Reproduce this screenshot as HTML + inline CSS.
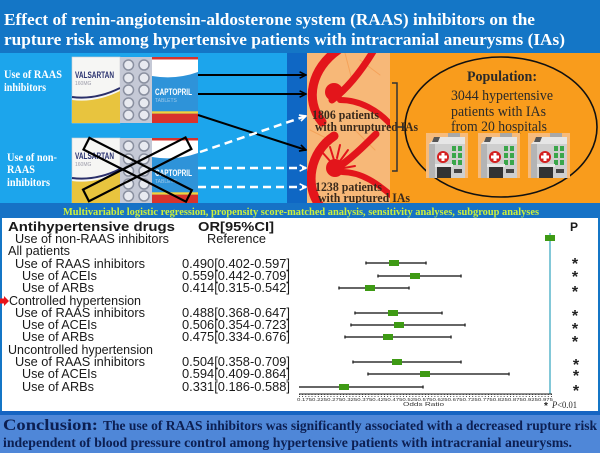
<!DOCTYPE html>
<html><head><meta charset="utf-8"><style>
html,body{margin:0;padding:0;background:#1476c6;}
svg{display:block;}
.serif{font-family:"Liberation Serif",serif;}
.sans{font-family:"Liberation Sans",sans-serif;}
</style></head><body>
<svg width="600" height="453" viewBox="0 0 600 453" xmlns="http://www.w3.org/2000/svg">
<defs>
<marker id="ab" viewBox="0 0 10 10" refX="9" refY="5" markerWidth="8" markerHeight="8" orient="auto" markerUnits="userSpaceOnUse"><path d="M1,1 L9,5 L1,9" fill="none" stroke="#000" stroke-width="2"/></marker>
<marker id="aw" viewBox="0 0 10 10" refX="9" refY="5" markerWidth="8" markerHeight="8" orient="auto" markerUnits="userSpaceOnUse"><path d="M1,1 L9,5 L1,9" fill="none" stroke="#fff" stroke-width="2"/></marker>
<pattern id="tk" x="299" y="0" width="3.15" height="4" patternUnits="userSpaceOnUse"><rect width="0.8" height="3" fill="#222"/></pattern>
<clipPath id="pc"><rect x="307" y="53" width="83" height="150"/></clipPath>
<g id="pack">
  <rect x="0" y="0" width="48" height="66" fill="#f6f6f4" stroke="#d0d0d0" stroke-width="0.6"/>
  <path d="M0,43 Q24,46 48,34 V66 H0 Z" fill="#e8c43e"/>
  <path d="M0,40 Q24,43 48,31" fill="none" stroke="#2a2f6a" stroke-width="2"/>
  <text x="3" y="21" class="sans" font-size="9" font-weight="bold" fill="#2b3370" textLength="39" lengthAdjust="spacingAndGlyphs">VALSARTAN</text>
  <text x="3" y="28" class="sans" font-size="5" fill="#9a9aa8">160MG</text>
  <rect x="48" y="0" width="32" height="66" fill="#c5c9d6"/>
  <g fill="#e8eaf0" stroke="#8a90a0" stroke-width="1.5">
    <circle cx="56.5" cy="8" r="5"/><circle cx="72" cy="8" r="5"/>
    <circle cx="56.5" cy="21" r="5"/><circle cx="72" cy="21" r="5"/>
    <circle cx="56.5" cy="33" r="5"/><circle cx="72" cy="33" r="5"/>
    <circle cx="56.5" cy="46" r="5"/><circle cx="72" cy="46" r="5"/>
    <circle cx="56.5" cy="58" r="5"/><circle cx="72" cy="58" r="5"/>
  </g>
  <rect x="80" y="0" width="46" height="66" fill="#2e93d9"/>
  <rect x="80" y="0" width="46" height="2.5" fill="#d8332c"/>
  <path d="M80,2.5 H126 V15 Q104,23 80,19 Z" fill="#ffffff"/>
  <text x="83" y="38" class="sans" font-size="9" font-weight="bold" fill="#ffffff" textLength="37" lengthAdjust="spacingAndGlyphs">CAPTOPRIL</text>
  <text x="83" y="45" class="sans" font-size="5" fill="#9fc9ea">TABLETS</text>
  <rect x="80" y="54.3" width="46" height="2.4" fill="#f2d23a"/>
  <rect x="80" y="56.7" width="46" height="9.3" fill="#d8332c"/>
</g>
<g id="hosp">
  <rect x="0" y="0" width="42" height="45" fill="#f6bb7c"/>
  <rect x="22" y="0" width="12" height="6" fill="#a8a8a8"/>
  <path d="M3,11 L10,4 H39 V11 Z" fill="#e6e6e6"/>
  <path d="M8,4 L14,4 L12,9 L6,9 Z" fill="#555"/>
  <rect x="3" y="11" width="36" height="34" fill="#cfcfcf"/>
  <rect x="3" y="11" width="6" height="34" fill="#b4b4b4"/>
  <circle cx="17" cy="24" r="6" fill="#d42020"/>
  <rect x="15.5" y="20" width="3" height="8" fill="#fff"/>
  <rect x="13" y="22.5" width="8" height="3" fill="#fff"/>
  <g fill="#3aa64a">
    <rect x="26" y="13" width="4" height="5"/><rect x="32" y="13" width="4" height="5"/>
    <rect x="26" y="20" width="4" height="5"/><rect x="32" y="20" width="4" height="5"/>
    <rect x="26" y="27" width="4" height="5"/><rect x="32" y="27" width="4" height="5"/>
  </g>
  <rect x="9" y="31" width="18" height="3" fill="#e8e8e8"/>
  <rect x="11" y="34" width="14" height="11" fill="#333"/>
  <rect x="28" y="36" width="8" height="4" fill="#444"/>
</g>
</defs>

<!-- background / title -->
<rect x="0" y="0" width="600" height="453" fill="#1476c6"/>
<text x="4" y="25" class="serif" font-size="17" font-weight="bold" fill="#ffffff" textLength="531" lengthAdjust="spacingAndGlyphs">Effect of renin-angiotensin-aldosterone system (RAAS) inhibitors on the</text>
<text x="4" y="45" class="serif" font-size="17" font-weight="bold" fill="#ffffff" textLength="561" lengthAdjust="spacingAndGlyphs">rupture risk among hypertensive patients with intracranial aneurysms (IAs)</text>

<!-- middle panel -->
<rect x="0" y="53" width="287" height="150" fill="#1ca5ec"/>
<rect x="287" y="53" width="20" height="150" fill="#0f67c4"/>
<rect x="307" y="53" width="83" height="150" fill="#f7b878"/>
<rect x="390" y="53" width="210" height="150" fill="#f99c1c"/>

<text x="4" y="78" class="serif" font-size="11.5" font-weight="bold" fill="#ffffff" textLength="58" lengthAdjust="spacingAndGlyphs">Use of RAAS</text>
<text x="4" y="91" class="serif" font-size="11.5" font-weight="bold" fill="#ffffff" textLength="42" lengthAdjust="spacingAndGlyphs">inhibitors</text>
<text x="7" y="161" class="serif" font-size="11.5" font-weight="bold" fill="#ffffff" textLength="50" lengthAdjust="spacingAndGlyphs">Use of non-</text>
<text x="7" y="173" class="serif" font-size="11.5" font-weight="bold" fill="#ffffff" textLength="28" lengthAdjust="spacingAndGlyphs">RAAS</text>
<text x="7" y="186" class="serif" font-size="11.5" font-weight="bold" fill="#ffffff" textLength="43" lengthAdjust="spacingAndGlyphs">inhibitors</text>

<use href="#pack" x="72" y="57"/>
<use href="#pack" x="72" y="138"/>
<g fill="none" stroke="#000" stroke-width="2.2">
  <rect x="80" y="163" width="115" height="13" transform="rotate(27 137 170)"/>
  <rect x="80" y="163" width="115" height="13" transform="rotate(-27 137 170)"/>
</g>

<!-- arrows -->
<g stroke="#000" stroke-width="2" fill="none">
  <line x1="198" y1="75" x2="306" y2="75" marker-end="url(#ab)"/>
  <line x1="198" y1="94" x2="306" y2="94" marker-end="url(#ab)"/>
  <line x1="198" y1="115" x2="306" y2="150" marker-end="url(#ab)"/>
</g>
<g stroke="#fff" stroke-width="2.5" fill="none" stroke-dasharray="8 5">
  <line x1="200" y1="152" x2="306" y2="116" marker-end="url(#aw)"/>
  <line x1="198" y1="168" x2="306" y2="168" marker-end="url(#aw)"/>
  <line x1="198" y1="187" x2="306" y2="187" marker-end="url(#aw)"/>
</g>

<!-- vessels -->
<g clip-path="url(#pc)" fill="none" stroke-linecap="round">
  <g stroke="#f39a4e" stroke-width="1" opacity="0.7">
    <line x1="345" y1="53" x2="352" y2="80"/><line x1="360" y1="60" x2="380" y2="75"/>
    <line x1="310" y1="130" x2="330" y2="140"/><line x1="355" y1="130" x2="375" y2="150"/>
  </g>
  <g stroke="#e3151b">
    <path d="M338,50 C312,68 304,100 322,122" stroke-width="9"/>
    <path d="M332,100 C348,88 362,70 374,50" stroke-width="7"/>
    <path d="M340,100 C360,100 378,110 392,126" stroke-width="6"/>
    <path d="M334,136 C310,152 304,185 320,206" stroke-width="9"/>
    <path d="M334,170 C350,160 364,146 376,134" stroke-width="7"/>
    <path d="M342,172 C362,172 378,184 392,196" stroke-width="6"/>
    <g stroke-width="2">
      <path d="M334,160 L330,147"/><path d="M337,158 L340,145"/><path d="M340,161 L348,150"/>
      <path d="M342,164 L352,158"/><path d="M330,161 L322,152"/><path d="M344,168 L355,166"/>
    </g>
  </g>
  <circle cx="334" cy="92" r="9" fill="#e3151b"/>
  <circle cx="335" cy="168" r="9" fill="#e3151b"/>
</g>

<text x="312" y="119" class="serif" font-size="12.5" font-weight="bold" fill="#3a2a1c" textLength="67" lengthAdjust="spacingAndGlyphs">1806 patients</text>
<text x="315" y="131" class="serif" font-size="12.5" font-weight="bold" fill="#3a2a1c" textLength="103" lengthAdjust="spacingAndGlyphs">with unruptured IAs</text>
<text x="315" y="191" class="serif" font-size="12.5" font-weight="bold" fill="#3a2a1c" textLength="67" lengthAdjust="spacingAndGlyphs">1238 patients</text>
<text x="318" y="202" class="serif" font-size="12.5" font-weight="bold" fill="#3a2a1c" textLength="92" lengthAdjust="spacingAndGlyphs">with ruptured IAs</text>

<path d="M392,83 H397 V171 H392 M397,127 H404" fill="none" stroke="#333" stroke-width="1.5"/>

<ellipse cx="501" cy="127" rx="96" ry="70" fill="none" stroke="#111" stroke-width="1.6"/>
<text x="467" y="81" class="serif" font-size="14.5" font-weight="bold" fill="#2a2a2a" textLength="70" lengthAdjust="spacingAndGlyphs">Population:</text>
<text x="451" y="100" class="serif" font-size="14.5" fill="#2a2a2a" textLength="102" lengthAdjust="spacingAndGlyphs">3044 hypertensive</text>
<text x="451" y="116" class="serif" font-size="14.5" fill="#2a2a2a" textLength="95" lengthAdjust="spacingAndGlyphs">patients with IAs</text>
<text x="451" y="131" class="serif" font-size="14.5" fill="#2a2a2a" textLength="96" lengthAdjust="spacingAndGlyphs">from 20 hospitals</text>
<use href="#hosp" x="426" y="133"/>
<use href="#hosp" x="478" y="133"/>
<use href="#hosp" x="528" y="133"/>

<!-- methods strip -->
<rect x="0" y="203" width="600" height="15" fill="#1672c6"/>
<text x="63" y="215" class="serif" font-size="10.5" font-weight="bold" fill="#cdf03a" textLength="476" lengthAdjust="spacingAndGlyphs">Multivariable logistic regression, propensity score-matched analysis, sensitivity analyses, subgroup analyses</text>

<!-- forest plot -->
<rect x="2" y="218" width="596" height="193" fill="#ffffff"/>
<g class="sans" fill="#1a1a1a">
  <text x="8" y="231" font-size="13" font-weight="bold" textLength="167" lengthAdjust="spacingAndGlyphs">Antihypertensive drugs</text>
  <text x="198" y="231" font-size="13" font-weight="bold" textLength="76" lengthAdjust="spacingAndGlyphs">OR[95%CI]</text>
  <text x="570" y="231" font-size="12" font-weight="bold">P</text>
  <text x="15" y="243" font-size="12.5" textLength="154" lengthAdjust="spacingAndGlyphs">Use of non-RAAS inhibitors</text>
  <text x="207" y="243" font-size="12.5" textLength="59" lengthAdjust="spacingAndGlyphs">Reference</text>
  <text x="8" y="255" font-size="12.5" textLength="62" lengthAdjust="spacingAndGlyphs">All patients</text>
  <text x="15" y="268" font-size="12.5" textLength="130" lengthAdjust="spacingAndGlyphs">Use of RAAS inhibitors</text>
  <text x="22" y="280" font-size="12.5" textLength="75" lengthAdjust="spacingAndGlyphs">Use of ACEIs</text>
  <text x="22" y="292" font-size="12.5" textLength="72" lengthAdjust="spacingAndGlyphs">Use of ARBs</text>
  <text x="9" y="305" font-size="12.5" textLength="132" lengthAdjust="spacingAndGlyphs">Controlled hypertension</text>
  <text x="15" y="317" font-size="12.5" textLength="130" lengthAdjust="spacingAndGlyphs">Use of RAAS inhibitors</text>
  <text x="22" y="329" font-size="12.5" textLength="75" lengthAdjust="spacingAndGlyphs">Use of ACEIs</text>
  <text x="22" y="341" font-size="12.5" textLength="72" lengthAdjust="spacingAndGlyphs">Use of ARBs</text>
  <text x="8" y="354" font-size="12.5" textLength="145" lengthAdjust="spacingAndGlyphs">Uncontrolled hypertension</text>
  <text x="15" y="366" font-size="12.5" textLength="130" lengthAdjust="spacingAndGlyphs">Use of RAAS inhibitors</text>
  <text x="22" y="378" font-size="12.5" textLength="75" lengthAdjust="spacingAndGlyphs">Use of ACEIs</text>
  <text x="22" y="391" font-size="12.5" textLength="72" lengthAdjust="spacingAndGlyphs">Use of ARBs</text>

  <text x="182" y="268" font-size="12.5" textLength="108" lengthAdjust="spacingAndGlyphs">0.490[0.402-0.597]</text>
  <text x="182" y="280" font-size="12.5" textLength="108" lengthAdjust="spacingAndGlyphs">0.559[0.442-0.709]</text>
  <text x="182" y="292" font-size="12.5" textLength="108" lengthAdjust="spacingAndGlyphs">0.414[0.315-0.542]</text>
  <text x="182" y="317" font-size="12.5" textLength="108" lengthAdjust="spacingAndGlyphs">0.488[0.368-0.647]</text>
  <text x="182" y="329" font-size="12.5" textLength="108" lengthAdjust="spacingAndGlyphs">0.506[0.354-0.723]</text>
  <text x="182" y="341" font-size="12.5" textLength="108" lengthAdjust="spacingAndGlyphs">0.475[0.334-0.676]</text>
  <text x="182" y="366" font-size="12.5" textLength="108" lengthAdjust="spacingAndGlyphs">0.504[0.358-0.709]</text>
  <text x="182" y="378" font-size="12.5" textLength="108" lengthAdjust="spacingAndGlyphs">0.594[0.409-0.864]</text>
  <text x="182" y="391" font-size="12.5" textLength="108" lengthAdjust="spacingAndGlyphs">0.331[0.186-0.588]</text>
</g>

<!-- red arrow marker -->
<path d="M0,298.5 H4 V296 L9,301 L4,306 V303.5 H0 Z" fill="#e8141c"/>

<!-- reference line -->
<line x1="550" y1="233" x2="550" y2="394" stroke="#5ab6cc" stroke-width="1.5"/>
<rect x="545" y="235" width="10" height="6" fill="#3e9a14"/>

<!-- CI bars -->
<g stroke="#333" stroke-width="1.5">
  <line x1="366" y1="263" x2="426" y2="263"/><line x1="366" y1="261.5" x2="366" y2="264.5"/><line x1="426" y1="261.5" x2="426" y2="264.5"/>
  <line x1="378" y1="276" x2="461" y2="276"/><line x1="378" y1="274.5" x2="378" y2="277.5"/><line x1="461" y1="274.5" x2="461" y2="277.5"/>
  <line x1="339" y1="288" x2="409" y2="288"/><line x1="339" y1="286.5" x2="339" y2="289.5"/><line x1="409" y1="286.5" x2="409" y2="289.5"/>
  <line x1="355" y1="313" x2="442" y2="313"/><line x1="355" y1="311.5" x2="355" y2="314.5"/><line x1="442" y1="311.5" x2="442" y2="314.5"/>
  <line x1="351" y1="325" x2="465" y2="325"/><line x1="351" y1="323.5" x2="351" y2="326.5"/><line x1="465" y1="323.5" x2="465" y2="326.5"/>
  <line x1="345" y1="337" x2="451" y2="337"/><line x1="345" y1="335.5" x2="345" y2="338.5"/><line x1="451" y1="335.5" x2="451" y2="338.5"/>
  <line x1="353" y1="362" x2="461" y2="362"/><line x1="353" y1="360.5" x2="353" y2="363.5"/><line x1="461" y1="360.5" x2="461" y2="363.5"/>
  <line x1="368" y1="374" x2="509" y2="374"/><line x1="368" y1="372.5" x2="368" y2="375.5"/><line x1="509" y1="372.5" x2="509" y2="375.5"/>
  <line x1="299" y1="387" x2="423" y2="387"/><line x1="423" y1="385.5" x2="423" y2="388.5"/>
</g>
<g fill="#3e9a14">
  <rect x="389" y="260" width="10" height="6"/>
  <rect x="410" y="273" width="10" height="6"/>
  <rect x="365" y="285" width="10" height="6"/>
  <rect x="388" y="310" width="10" height="6"/>
  <rect x="394" y="322" width="10" height="6"/>
  <rect x="383" y="334" width="10" height="6"/>
  <rect x="392" y="359" width="10" height="6"/>
  <rect x="420" y="371" width="10" height="6"/>
  <rect x="339" y="384" width="10" height="6"/>
</g>

<!-- asterisks -->
<g class="sans" font-size="16" font-weight="bold" fill="#222" text-anchor="middle">
  <text x="575" y="269">*</text><text x="575" y="282">*</text><text x="575" y="297">*</text>
  <text x="575" y="321">*</text><text x="575" y="334">*</text><text x="575" y="347">*</text>
  <text x="576" y="370">*</text><text x="576" y="381">*</text><text x="576" y="396">*</text>
</g>

<!-- axis -->
<line x1="299" y1="394" x2="552" y2="394" stroke="#222" stroke-width="1"/>
<rect x="299" y="394" width="253" height="3" fill="url(#tk)"/>
<text x="297" y="401" class="sans" font-size="4.5" fill="#333" textLength="256" lengthAdjust="spacingAndGlyphs">0.1750.2250.2750.3250.3750.4250.4750.5250.5750.6250.6750.7250.7750.8250.8750.9250.975</text>
<text x="403" y="406" class="sans" font-size="5.5" fill="#333" textLength="41" lengthAdjust="spacingAndGlyphs">Odds Ratio</text>
<text x="544" y="409" class="sans" font-size="10" font-weight="bold" fill="#222">*</text>
<text x="552" y="408" class="serif" font-size="9" fill="#222" textLength="25" lengthAdjust="spacingAndGlyphs"><tspan font-style="italic">P</tspan>&lt;0.01</text>

<!-- conclusion -->
<rect x="0" y="411" width="600" height="4" fill="#1664c2"/>
<rect x="0" y="415" width="600" height="38" fill="#4f87d8"/>
<text x="3" y="430" class="serif" font-size="16" font-weight="bold" fill="#0c1f52" textLength="95" lengthAdjust="spacingAndGlyphs">Conclusion:</text>
<text x="103" y="430" class="serif" font-size="13.5" font-weight="bold" fill="#0c1f52" textLength="494" lengthAdjust="spacingAndGlyphs">The use of RAAS inhibitors was significantly associated with a decreased rupture risk</text>
<text x="3" y="447" class="serif" font-size="13.5" font-weight="bold" fill="#0c1f52" textLength="569" lengthAdjust="spacingAndGlyphs">independent of blood pressure control among hypertensive patients with intracranial aneurysms.</text>
</svg>
</body></html>
